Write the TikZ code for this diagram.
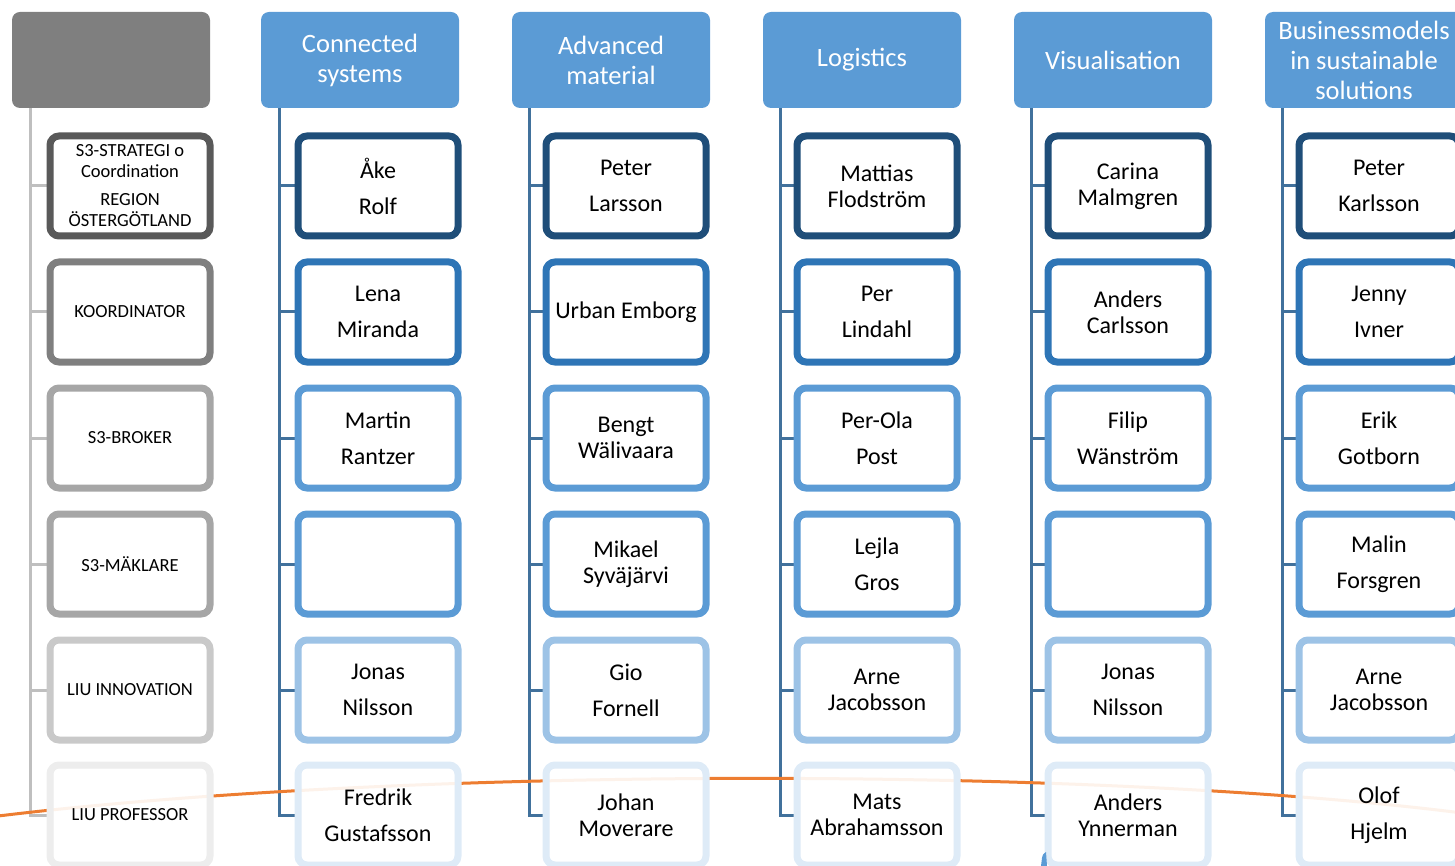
\documentclass[tikz,border=0pt]{standalone}
\usepackage{fontspec}
\setmainfont{Carlito}
\usepackage{tikz}
\usetikzlibrary{positioning, calc}
\definecolor{hdrgray}{RGB}{127,127,127}
\definecolor{hdrblue}{RGB}{91,155,213}
\definecolor{trunkgray}{RGB}{191,191,191}
\definecolor{trunkblue}{RGB}{65,113,156}
\definecolor{gray1}{RGB}{89,89,89}
\definecolor{gray2}{RGB}{127,127,127}
\definecolor{gray3}{RGB}{166,166,166}
\definecolor{gray5}{RGB}{201,201,201}
\definecolor{gray6}{RGB}{237,237,237}
\definecolor{blue1}{RGB}{31,78,121}
\definecolor{blue2}{RGB}{46,117,182}
\definecolor{blue3}{RGB}{91,155,213}
\definecolor{blue5}{RGB}{157,195,230}
\definecolor{blue6}{RGB}{222,235,247}
\definecolor{myorange}{RGB}{237,125,49}
\tikzset{
  hdr/.style={rectangle, fill=#1, text=white, minimum width=198pt,
    minimum height=96pt, rounded corners=8pt, align=center,
    font=\fontsize{26.5}{30}\selectfont},
  member/.style={rectangle, draw=#1, fill=white, fill opacity=0.9,
    text opacity=1, line width=7pt, minimum width=160pt,
    minimum height=100pt, rounded corners=9pt, align=center,
    font=\fontsize{24}{26}\selectfont},
  role/.style={member=#1, font=\fontsize{18.5}{21}\selectfont},
  trunk/.style={line width=3pt, color=#1},
  curve/.style={line width=3pt, color=myorange}
}

\begin{document}
\begin{tikzpicture}[x=1pt, y=-1pt]
  \useasboundingbox (0,0) rectangle (1455,866);
  \clip (0,0) rectangle (1455,866);

  % Headers
  \node[hdr=hdrgray] (grh) at (111,60) {};
  \node[hdr=hdrblue] (csh) at (360,60) {Connected\\systems};
  \node[hdr=hdrblue] (amh) at (611,60) {Advanced\\material};
  \node[hdr=hdrblue] (lgh) at (862,60) {Logistics};
  \node[hdr=hdrblue] (vsh) at (1113,60) {Visualisation};
  \node[hdr=hdrblue] (bmh) at (1364,60) {Businessmodels\\in sustainable\\solutions};

  % Trunk tops
  \coordinate (grt) at ([xshift=19pt]grh.south west);
  \coordinate (cst) at ([xshift=19pt]csh.south west);
  \coordinate (amt) at ([xshift=18pt]amh.south west);
  \coordinate (lgt) at ([xshift=18pt]lgh.south west);
  \coordinate (vst) at ([xshift=18pt]vsh.south west);
  \coordinate (bmt) at ([xshift=18pt]bmh.south west);

  % Roles (gray column)
  \coordinate (gr1) at (130,186);
  \coordinate (gr2) at (130,312);
  \coordinate (gr3) at (130,438);
  \coordinate (gr4) at (130,564);
  \coordinate (gr5) at (130,690);
  \coordinate (gr6) at (130,815);

  % Trunks and ticks
  \draw[trunk=trunkgray] (grt) |- ([xshift=-80pt]gr6);
  \foreach \r in {1,...,6}
    \draw[trunk=trunkgray] (grt |- gr\r) -- ([xshift=-80pt]gr\r);
  \foreach \c/\x in {cs/378, am/626, lg/877, vs/1128, bm/1379} {
    \draw[trunk=trunkblue] (\c t) |- (\x-80,815);
    \foreach \y in {186,312,438,564,690,815}
      \draw[trunk=trunkblue] (\c t |- 0,\y) -- (\x-80,\y);
  }

  % Orange arc behind the boxes
  \draw[curve] (-10,817) .. controls (400,766) and (1100,766) .. (1470,814);

  % Gray column
  \node[role=gray1] (r1) at (gr1) {S3-STRATEGI o\\Coordination\\[7pt]REGION\\ÖSTERGÖTLAND};
  \node[role=gray2] (r2) at (gr2) {KOORDINATOR};
  \node[role=gray3] (r3) at (gr3) {S3-BROKER};
  \node[role=gray3] (r4) at (gr4) {S3-MÄKLARE};
  \node[role=gray5] (r5) at (gr5) {LIU INNOVATION};
  \node[role=gray6] (r6) at (gr6) {LIU PROFESSOR};

  % Connected systems
  \node[member=blue1] (cs1) at (378,186) {Åke\\[10pt]Rolf};
  \node[member=blue2] (cs2) at (378,312) {Lena\\[10pt]Miranda};
  \node[member=blue3] (cs3) at (378,438) {Martin\\[10pt]Rantzer};
  \node[member=blue3] (cs4) at (378,564) {};
  \node[member=blue5] (cs5) at (378,690) {Jonas\\[10pt]Nilsson};
  \node[member=blue6] (cs6) at (378,815) {Fredrik\\[10pt]Gustafsson};

  % Advanced material
  \node[member=blue1] (am1) at (626,186) {Peter\\[10pt]Larsson};
  \node[member=blue2] (am2) at (626,312) {Urban Emborg};
  \node[member=blue3] (am3) at (626,438) {Bengt\\Wälivaara};
  \node[member=blue3] (am4) at (626,564) {Mikael\\Syväjärvi};
  \node[member=blue5] (am5) at (626,690) {Gio\\[10pt]Fornell};
  \node[member=blue6] (am6) at (626,815) {Johan\\Moverare};

  % Logistics
  \node[member=blue1] (lg1) at (877,186) {Mattias\\Flodström};
  \node[member=blue2] (lg2) at (877,312) {Per\\[10pt]Lindahl};
  \node[member=blue3] (lg3) at (877,438) {Per-Ola\\[10pt]Post};
  \node[member=blue3] (lg4) at (877,564) {Lejla\\[10pt]Gros};
  \node[member=blue5] (lg5) at (877,690) {Arne\\Jacobsson};
  \node[member=blue6] (lg6) at (877,815) {Mats\\Abrahamsson};

  % Visualisation
  \node[member=blue1] (vs1) at (1128,186) {Carina\\Malmgren};
  \node[member=blue2] (vs2) at (1128,312) {Anders\\Carlsson};
  \node[member=blue3] (vs3) at (1128,438) {Filip\\[10pt]Wänström};
  \node[member=blue3] (vs4) at (1128,564) {};
  \node[member=blue5] (vs5) at (1128,690) {Jonas\\[10pt]Nilsson};
  \node[member=blue6] (vs6) at (1128,815) {Anders\\Ynnerman};

  % Businessmodels
  \node[member=blue1] (bm1) at (1379,186) {Peter\\[10pt]Karlsson};
  \node[member=blue2] (bm2) at (1379,312) {Jenny\\[10pt]Ivner};
  \node[member=blue3] (bm3) at (1379,438) {Erik\\[10pt]Gotborn};
  \node[member=blue3] (bm4) at (1379,564) {Malin\\[10pt]Forsgren};
  \node[member=blue5] (bm5) at (1379,690) {Arne\\Jacobsson};
  \node[member=blue6] (bm6) at (1379,815) {Olof\\[10pt]Hjelm};

  % Blue fragment at the bottom edge
  \fill[blue3] (1041,866) -- (1042,858) .. controls (1043,854) .. (1046,852) -- (1047,866) -- cycle;
\end{tikzpicture}
\end{document}
